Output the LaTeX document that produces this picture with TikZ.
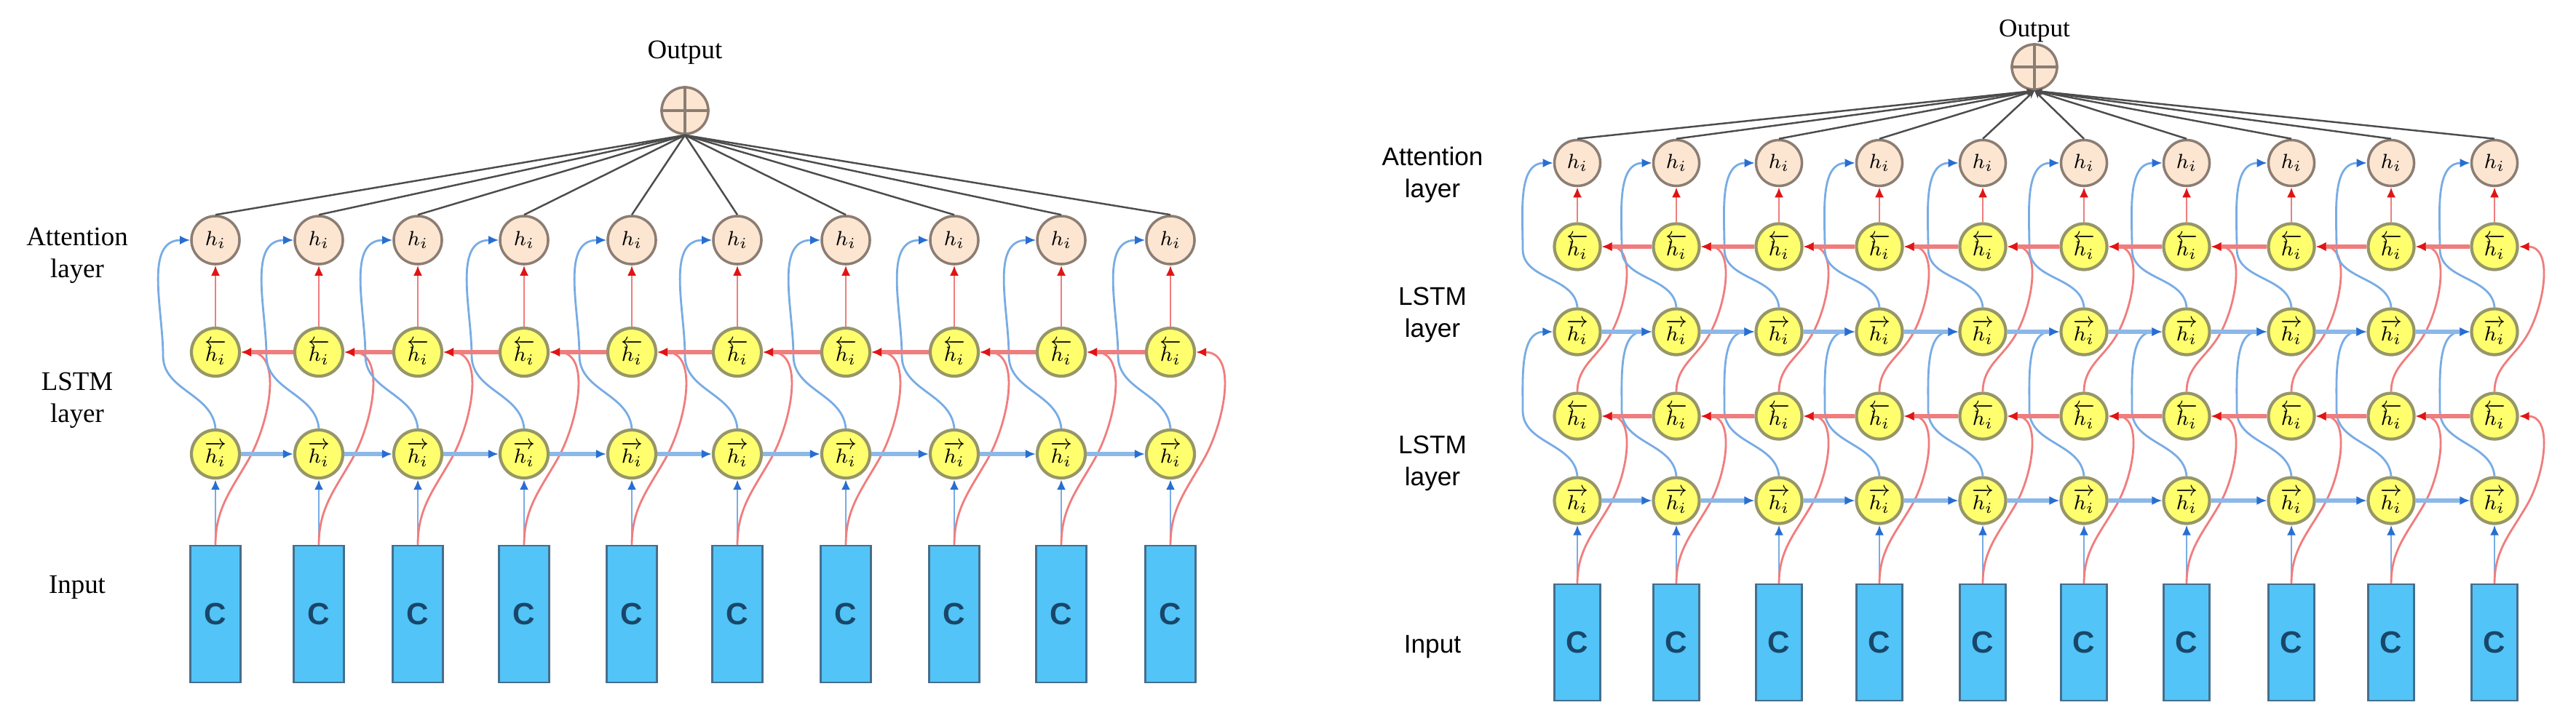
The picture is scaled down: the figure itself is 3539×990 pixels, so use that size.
\documentclass[tikz,border=0pt]{standalone}
\usepackage{amsmath}
\usepackage{fontspec}
\setmainfont{Liberation Serif}
\newfontfamily\arialfont{Liberation Sans}
\usetikzlibrary{arrows.meta}

\definecolor{cellyellow}{RGB}{255,255,110}
\definecolor{cellrim}{RGB}{150,150,105}
\definecolor{attpeach}{RGB}{252,230,210}
\definecolor{attrim}{RGB}{140,125,115}
\definecolor{inblue}{RGB}{82,196,247}
\definecolor{inrim}{RGB}{70,110,140}
\definecolor{cdark}{RGB}{25,70,105}
\definecolor{fwblue}{RGB}{120,172,228}
\definecolor{fwtip}{RGB}{40,110,210}
\definecolor{bwred}{RGB}{240,125,125}
\definecolor{bwtip}{RGB}{225,20,20}

\tikzset{
  lstm/.style={circle, draw=cellrim, line width=1.2pt, fill=cellyellow,
    minimum size=0.66cm, inner sep=0pt, font=\footnotesize},
  att/.style={circle, draw=attrim, line width=1pt, fill=attpeach,
    minimum size=0.66cm, inner sep=0pt, font=\footnotesize},
  sumnode/.style={circle, draw=attrim, line width=1pt, fill=attpeach,
    minimum size=0.64cm, inner sep=0pt},
  inbox/.style={draw=inrim, line width=0.8pt, fill=inblue, inner sep=0pt,
    text=cdark, font=\arialfont\bfseries\fontsize{12}{12}\selectfont},
  fwline/.style={draw=fwblue, line width=0.8pt,
    -{Latex[length=4pt,width=3.5pt,color=fwtip]}},
  fwstep/.style={draw=fwblue!85, line width=1.5pt,
    -{Latex[length=4pt,width=3.5pt,color=fwtip]}},
  bwline/.style={draw=bwred, line width=0.8pt,
    -{Latex[length=4pt,width=3.5pt,color=bwtip]}},
  bwstep/.style={draw=bwred, line width=1.5pt,
    -{Latex[length=4pt,width=3.5pt,color=bwtip]}},
  attline/.style={draw=black!70, line width=0.7pt},
  serlab/.style={align=center, font=\fontsize{10.5}{12.5}\selectfont},
  sanlab/.style={align=center, font=\arialfont\fontsize{10}{12.5}\selectfont}
}

\begin{document}
\begin{tikzpicture}[x=0.01cm, y=0.01cm]
\useasboundingbox (0,0) rectangle (3539,-990);
% ---------------- Left: one bidirectional LSTM layer ----------------
\node[serlab] (llabatt) at (106,-351) {Attention\\layer};
\node[serlab] (llablstm) at (106,-550) {LSTM\\layer};
\node[serlab] (llabin) at (106,-807) {Input};
\node[serlab] (llabout) at (941,-72) {Output};
\node[sumnode] (lo) at (941,-152) {};
\draw[attrim, line width=1pt] (lo.north) -- (lo.south) (lo.west) -- (lo.east);
\foreach \x [count=\i] in {296,438,574,720,868,1013,1162,1311,1458,1608} {
  \node[inbox, minimum width=0.69cm, minimum height=1.88cm] (lc\i) at (\x,-844) {C};
  \node[lstm] (lf\i) at (\x,-624) {$\overrightarrow{h_i}$};
  \node[lstm] (lb\i) at (\x,-484) {$\overleftarrow{h_i}$};
  \node[att] (la\i) at (\x,-330) {$h_i$};
}
\foreach \i in {1,...,10} {
  \draw[attline] (lo.south) -- (la\i.north);
  \draw[fwline] (lc\i.north) -- (lf\i.south);
  \draw[bwline] (lc\i.north) to[out=90,in=240] ++(45,116) to[out=60,in=0] (lb\i.east);
  \draw[bwline] (lb\i.north) -- (la\i.south);
  \draw[fwline] (lf\i.north) to[out=95,in=-90] ++(-72,100) to[out=90,in=180] (la\i.west);
}
\foreach \i [evaluate=\i as \j using int(\i+1)] in {1,...,9} {
  \draw[fwstep] (lf\i.east) -- (lf\j.west);
  \draw[bwstep] (lb\j.west) -- (lb\i.east);
}
% ---------------- Right: two stacked bidirectional LSTM layers ----------------
\node[sanlab] (rlabatt) at (1968,-240) {Attention\\layer};
\node[sanlab] (rlablstmb) at (1968,-433) {LSTM\\layer};
\node[sanlab] (rlablstma) at (1968,-637) {LSTM\\layer};
\node[sanlab] (rlabin) at (1968,-889) {Input};
\node[serlab, font=\fontsize{10}{12}\selectfont] (rlabout) at (2795,-43) {Output};
\node[sumnode, minimum size=0.62cm] (ro) at (2795,-92) {};
\draw[attrim, line width=1pt] (ro.north) -- (ro.south) (ro.west) -- (ro.east);
\foreach \x [count=\i] in {2167,2303,2444,2582,2724,2863,3004,3148,3285,3427} {
  \node[inbox, minimum width=0.63cm, minimum height=1.6cm] (rc\i) at (\x,-883) {C};
  \node[lstm, minimum size=0.63cm] (rf\i) at (\x,-688) {$\overrightarrow{h_i}$};
  \node[lstm, minimum size=0.63cm] (rb\i) at (\x,-572) {$\overleftarrow{h_i}$};
  \node[lstm, minimum size=0.63cm] (rg\i) at (\x,-456) {$\overrightarrow{h_i}$};
  \node[lstm, minimum size=0.63cm] (rd\i) at (\x,-339) {$\overleftarrow{h_i}$};
  \node[att, minimum size=0.63cm] (ra\i) at (\x,-224) {$h_i$};
}
\foreach \i in {1,...,10} {
  \draw[attline, -{Stealth[length=3pt,width=2.5pt]}] (ra\i.north) -- (ro.south);
  % first layer
  \draw[fwline] (rc\i.north) -- (rf\i.south);
  \draw[bwline] (rc\i.north) to[out=90,in=240] ++(45,108) to[out=60,in=0] (rb\i.east);
  % second layer
  \draw[fwline] (rf\i.north) to[out=95,in=-90] ++(-75,90) to[out=90,in=180] (rg\i.west);
  \draw[bwline] (rb\i.north) to[out=90,in=240] ++(45,78) to[out=60,in=0] (rd\i.east);
  % attention
  \draw[bwline] (rd\i.north) -- (ra\i.south);
  \draw[fwline] (rg\i.north) to[out=95,in=-90] ++(-75,80) to[out=90,in=180] (ra\i.west);
}
\foreach \i [evaluate=\i as \j using int(\i+1)] in {1,...,9} {
  \draw[fwstep] (rf\i.east) -- (rf\j.west);
  \draw[bwstep] (rb\j.west) -- (rb\i.east);
  \draw[fwstep] (rg\i.east) -- (rg\j.west);
  \draw[bwstep] (rd\j.west) -- (rd\i.east);
}
\end{tikzpicture}
\end{document}
